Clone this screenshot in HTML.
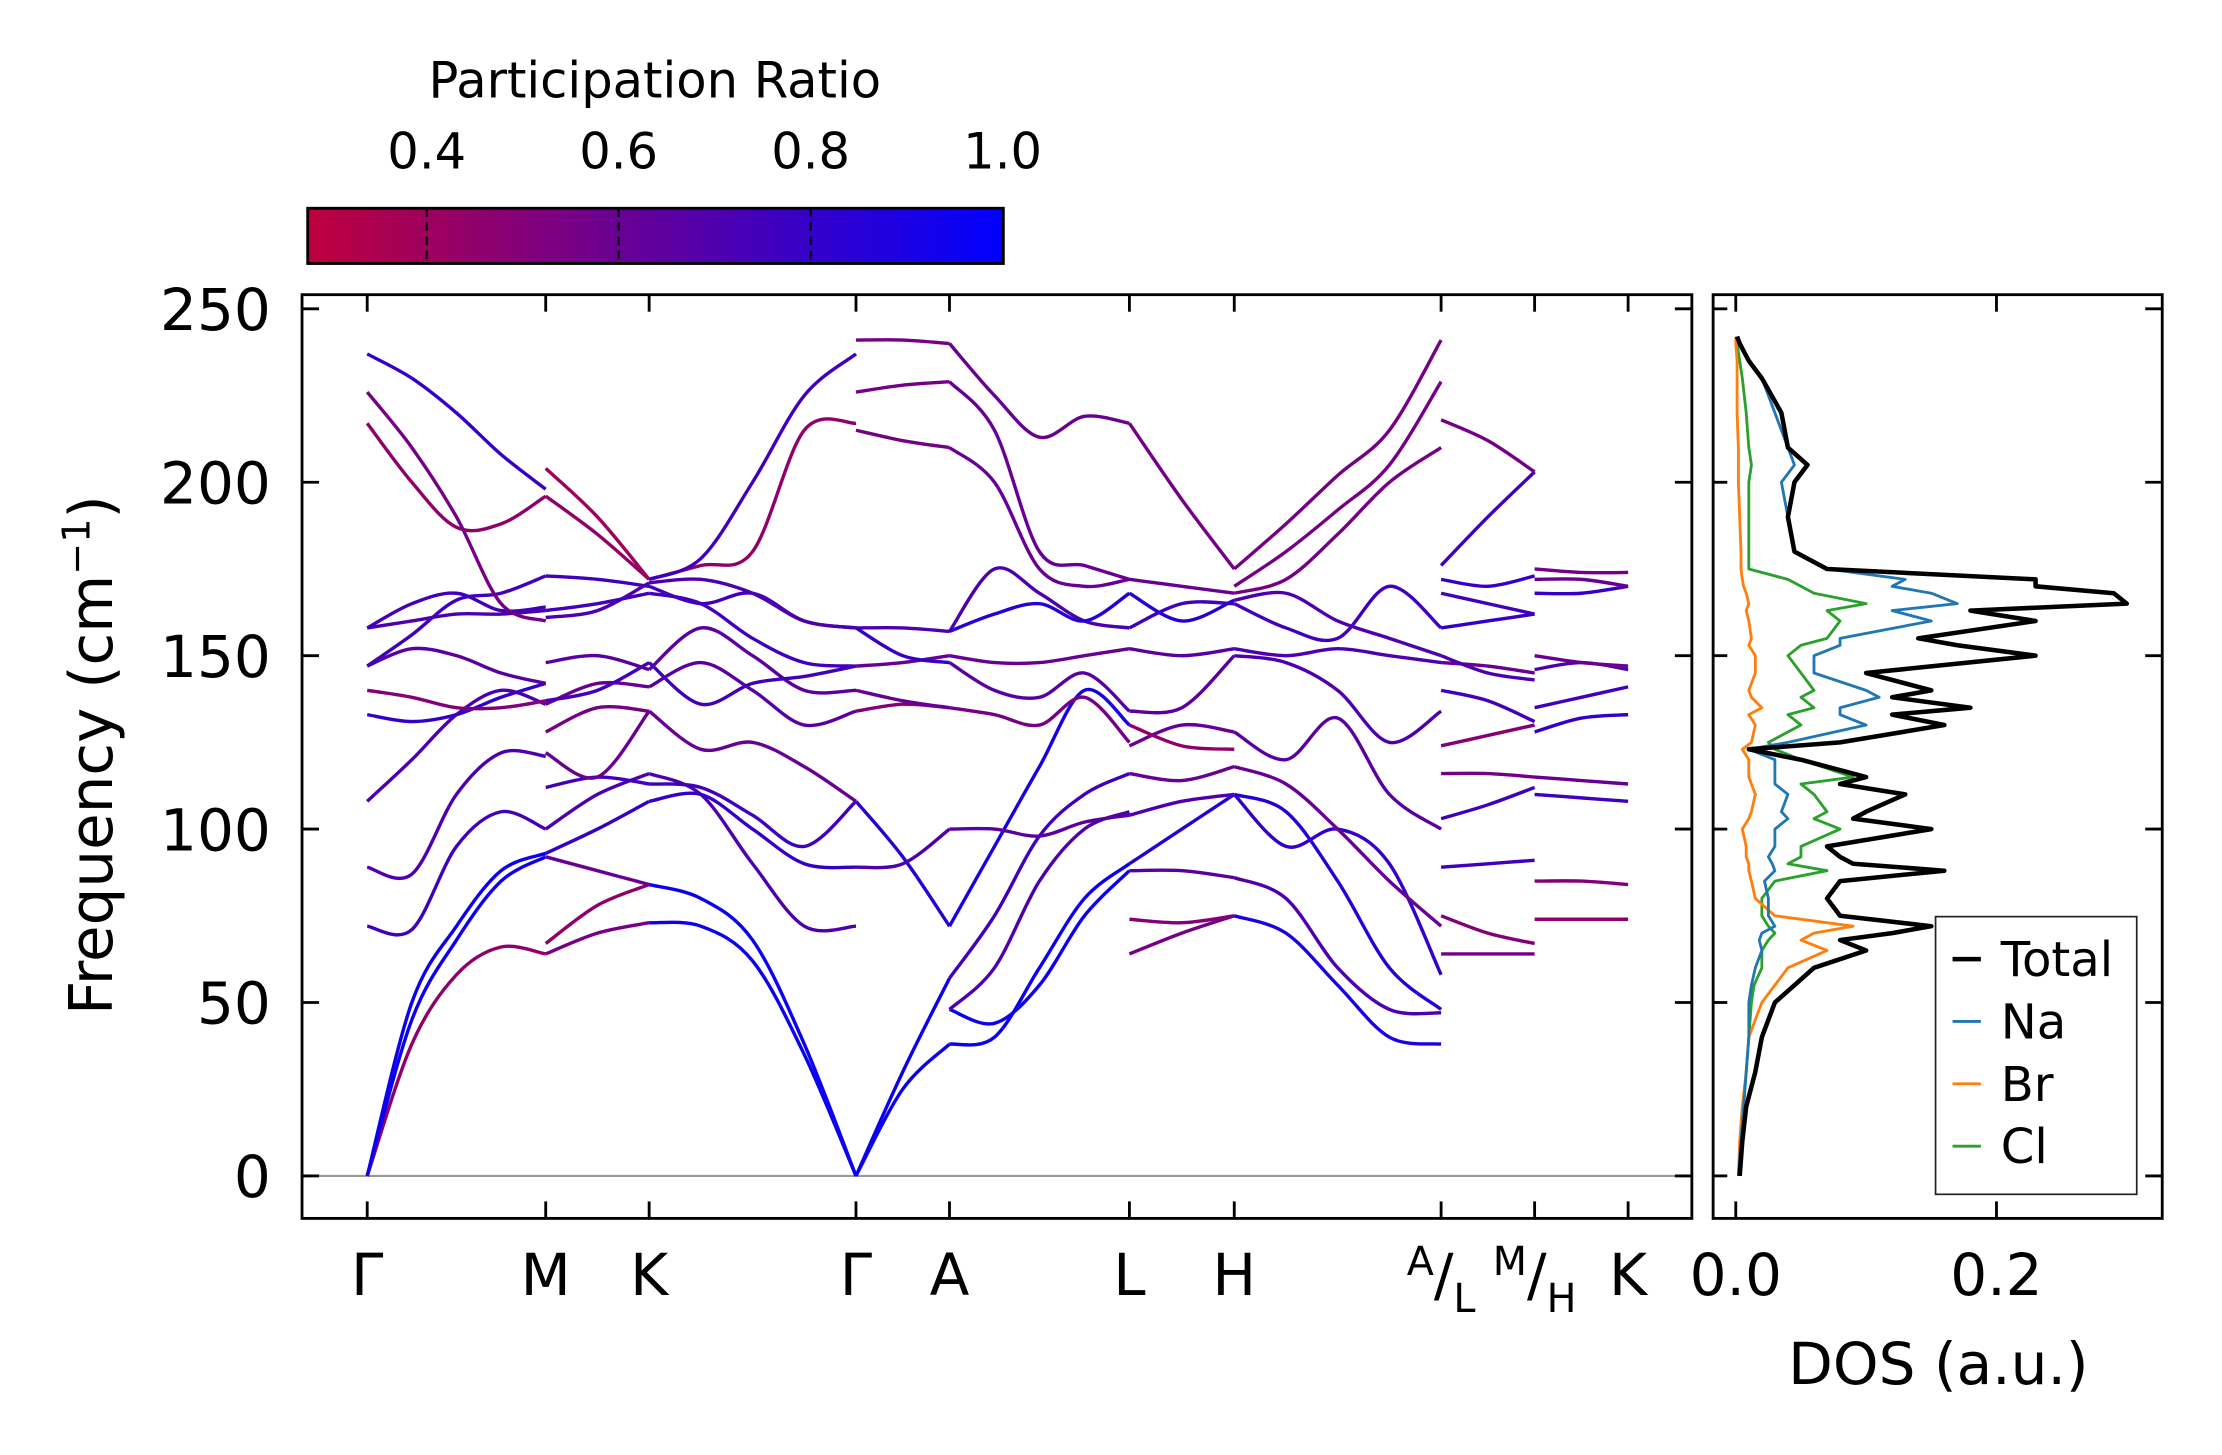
<!DOCTYPE html>
<html><head><meta charset="utf-8"><style>
html,body{margin:0;padding:0;background:#fff}
svg{display:block}
text{font-family:"DejaVu Sans","Liberation Sans",sans-serif;fill:#000}
</style></head><body>
<svg id="fig" width="2222" height="1455" viewBox="0 0 1568 1027" xmlns="http://www.w3.org/2000/svg">
<defs>
<linearGradient id="cmap" x1="0" x2="1" y1="0" y2="0">
<stop offset="0" stop-color="rgb(190,0,60)"/>
<stop offset="0.447" stop-color="rgb(105,0,147)"/>
<stop offset="1" stop-color="rgb(0,0,255)"/>
</linearGradient>
<clipPath id="mainclip"><rect x="213" y="208" width="981" height="652"/></clipPath>
<clipPath id="dosclip"><rect x="1209" y="208" width="317" height="652"/></clipPath>
</defs>
<g>
<text x="462" y="69" font-size="35" text-anchor="middle">Participation Ratio</text>
<rect x="217" y="147" width="491" height="39" fill="url(#cmap)" stroke="#000" stroke-width="2"/>
<g id="cbticks"></g>
</g>
<g>
<line x1="213" x2="1194" y1="830" y2="830" stroke="#999" stroke-width="1.5"/>
<g id="bands" clip-path="url(#mainclip)"></g>
<rect x="213" y="208" width="981" height="652" fill="none" stroke="#000" stroke-width="2"/>
<g id="mainaxes"></g>
<text transform="translate(79,533) rotate(-90)" font-size="42" text-anchor="middle">Frequency (cm<tspan font-size="27" dy="-16">−1</tspan><tspan dy="16">)</tspan></text>
</g>
<g>
<g id="dos" clip-path="url(#dosclip)"></g>
<rect x="1209" y="208" width="317" height="652" fill="none" stroke="#000" stroke-width="2"/>
<g id="dosaxes"></g>
<text x="1368" y="977" font-size="41" text-anchor="middle">DOS (a.u.)</text>
<g>
<rect x="1366" y="647" width="142" height="196" fill="#fff" stroke="#222" stroke-width="1.2"/>
<g id="legend"></g>
</g>
</g>
</svg>
<script>
// ---------- data ----------
const kLabels = ["Γ","M","K","Γ","A","L","H","A|L","M|H","K"];
const kPos = [0,126,199,345,411,538,612,758,824,890];
const yTicks = [0,50,100,150,200,250];
const cbTicks = [0.4,0.6,0.8,1.0];
const dosTicks = [0.0,0.2];
const segGM = [[0.45,0,38,58,66,64],[0.95,0,45,68,85,92],[0.95,0,50,72,88,93],[0.75,72,71,95,105,100],[0.7,89,87,110,122,121],[0.7,108,120,133,140,136],[0.8,133,131,133,138,142],[0.5,140,138,135,135,137],[0.65,147,152,150,145,142],[0.75,147,156,166,168,173],[0.7,158,160,162,162,163],[0.75,158,165,168,163,164],[0.45,217,200,187,188,196],[0.55,226,210,190,165,160],[0.8,237,230,220,208,198]];
const segMK = [[0.55,64,70,73],[0.45,67,78,84],[0.6,92,88,84],[0.8,93,100,108],[0.7,100,110,116],[0.75,112,115,113],[0.6,122,115,134],[0.55,128,135,134],[0.6,136,142,141],[0.75,137,140,148],[0.65,148,150,146],[0.7,161,163,171],[0.75,163,165,168],[0.75,173,172,170],[0.45,196,185,172],[0.4,204,190,172]];
const segKG = [[0.95,73,72,62,35,0],[0.95,84,80,68,38,0],[0.7,116,110,90,72,72],[0.8,108,110,100,90,89],[0.75,113,112,104,95,108],[0.6,134,123,125,118,108],[0.65,141,148,140,130,134],[0.65,146,158,150,140,140],[0.75,148,136,142,144,147],[0.75,168,165,155,148,147],[0.75,170,165,168,160,158],[0.7,171,172,168,160,158],[0.45,172,176,180,215,217],[0.75,172,178,200,225,237]];
const segGA = [[0.95,0,30,57],[0.95,0,25,38],[0.85,108,92,72],[0.7,89,90,100],[0.5,134,136,135],[0.6,140,137,135],[0.6,147,148,150],[0.7,158,158,157],[0.8,158,150,148],[0.55,215,212,210],[0.55,226,228,229],[0.55,241,241,240]];
const segAL = [[0.95,38,40,60,80,90],[0.95,48,44,55,75,88],[0.7,48,60,85,100,105],[0.75,57,75,98,110,116],[0.9,72,95,118,140,130],[0.65,100,100,98,102,104],[0.55,135,133,130,138,125],[0.65,148,140,138,145,134],[0.6,150,148,148,150,152],[0.7,157,175,168,160,158],[0.85,157,162,165,160,168],[0.6,210,200,175,170,172],[0.6,229,215,180,176,172],[0.6,240,225,213,219,217]];
const segLH = [[0.55,64,70,75],[0.5,74,73,75],[0.65,88,88,86],[0.85,90,100,110],[0.7,104,108,110],[0.6,116,114,118],[0.6,124,130,128],[0.45,130,124,123],[0.65,134,135,150],[0.65,152,150,152],[0.75,158,165,165],[0.85,168,160,166],[0.6,172,170,168],[0.55,217,195,175]];
const segHA = [[0.9,75,70,55,40,38],[0.7,86,80,60,48,47],[0.85,110,105,85,60,48],[0.8,110,95,100,90,58],[0.6,118,113,100,85,72],[0.65,128,120,132,110,100],[0.7,150,148,140,125,134],[0.7,152,150,152,150,148],[0.75,165,158,155,170,158],[0.7,166,168,160,155,150],[0.55,175,188,202,215,241],[0.55,170,180,192,205,229],[0.55,168,172,185,200,210]];
const segLM = [[0.55,64,64,64],[0.5,75,70,67],[0.75,89,90,91],[0.75,103,107,112],[0.55,116,116,115],[0.5,124,127,130],[0.75,140,137,131],[0.6,148,147,145],[0.7,150,145,143],[0.8,158,160,162],[0.75,168,165,162],[0.8,172,170,173],[0.75,176,190,203],[0.55,218,212,203]];
const segHK = [[0.45,74,74,74],[0.5,85,85,84],[0.75,110,109,108],[0.6,115,114,113],[0.8,128,132,133],[0.75,135,138,141],[0.7,146,148,146],[0.6,150,148,147],[0.8,168,168,170],[0.6,172,172,170],[0.55,175,174,174]];
const segments = [[0,1,segGM],[1,2,segMK],[2,3,segKG],[3,4,segGA],[4,5,segAL],[5,6,segLH],[6,7,segHA],[7,8,segLM],[8,9,segHK]];
const dosFreq = [0,10,20,30,40,50,55,60,65,68,70,72,75,80,85,88,90,92,95,100,103,105,110,113,115,120,123,125,130,133,135,138,140,145,150,153,155,160,163,165,168,170,172,175,180,190,200,205,210,220,230,235,240,242];
const dosTotal = [0.003,0.005,0.008,0.015,0.02,0.03,0.045,0.06,0.1,0.08,0.12,0.15,0.08,0.07,0.08,0.16,0.09,0.08,0.07,0.15,0.09,0.1,0.13,0.08,0.1,0.05,0.01,0.08,0.16,0.12,0.18,0.12,0.15,0.1,0.23,0.17,0.14,0.23,0.18,0.3,0.29,0.23,0.23,0.07,0.045,0.04,0.045,0.055,0.04,0.035,0.02,0.01,0.003,0.001];
const dosNa = [0.002,0.004,0.006,0.008,0.01,0.01,0.012,0.015,0.02,0.018,0.02,0.03,0.025,0.025,0.022,0.03,0.028,0.025,0.03,0.03,0.04,0.035,0.04,0.03,0.03,0.03,0.01,0.04,0.1,0.08,0.08,0.11,0.1,0.06,0.06,0.08,0.08,0.15,0.12,0.17,0.15,0.12,0.13,0.07,0.045,0.04,0.035,0.045,0.04,0.03,0.02,0.01,0.003,0.001];
const dosBr = [0.002,0.003,0.005,0.008,0.01,0.02,0.03,0.04,0.07,0.05,0.06,0.09,0.03,0.015,0.012,0.01,0.01,0.008,0.008,0.005,0.01,0.012,0.015,0.012,0.01,0.01,0.005,0.012,0.015,0.01,0.02,0.012,0.01,0.015,0.015,0.01,0.012,0.01,0.008,0.01,0.008,0.006,0.005,0.004,0.004,0.003,0.002,0.002,0.002,0.001,0.001,0.001,0.0,0.0];
const dosCl = [0.002,0.004,0.006,0.008,0.01,0.012,0.014,0.02,0.02,0.025,0.03,0.025,0.02,0.02,0.03,0.07,0.04,0.05,0.05,0.08,0.06,0.07,0.06,0.05,0.09,0.05,0.03,0.025,0.05,0.04,0.06,0.05,0.06,0.05,0.04,0.05,0.07,0.08,0.07,0.1,0.06,0.05,0.04,0.01,0.01,0.01,0.01,0.012,0.01,0.008,0.005,0.003,0.001,0.0];

const NS="http://www.w3.org/2000/svg";
function el(tag,attrs,parent){const e=document.createElementNS(NS,tag);for(const k in attrs)e.setAttribute(k,attrs[k]);parent.appendChild(e);return e;}
const yOf = f => 830 - f*2.448;
const xOf = k => 259 + k*(1149-259)/890;
const dosX = v => 1225 + v*920;
const cbX = v => 301 + (v-0.4)*(135.5/0.2);
function cmap(p){let t=Math.max(0,Math.min(1,(p-0.276)/(1-0.276)));let r,g=0,b;
 if(t<0.447){const u=t/0.447;r=190+(105-190)*u;b=60+(147-60)*u;}else{const u=(t-0.447)/0.553;r=105*(1-u);b=147+(255-147)*u;}
 return `rgb(${r|0},${g},${b|0})`;}

const cbt=document.getElementById('cbticks');
cbTicks.forEach(v=>{const x=cbX(v);
 if(v<1){const l=el('line',{x1:x,x2:x,y1:147,y2:186,stroke:'#000','stroke-width':1.5,'stroke-dasharray':'6,4'},cbt);
 
 }
 const t=el('text',{x:x,y:119,'font-size':35,'text-anchor':'middle'},cbt);t.textContent=v.toFixed(1);
 
 });

const ma=document.getElementById('mainaxes');
yTicks.forEach(v=>{const y=yOf(v);
 el('line',{x1:213,x2:225,y1:y,y2:y,stroke:'#000','stroke-width':2},ma);
 el('line',{x1:1182,x2:1194,y1:y,y2:y,stroke:'#000','stroke-width':2},ma);
 const t=el('text',{x:191,y:y+15,'font-size':41,'text-anchor':'end'},ma);t.textContent=v;
 
 });
kPos.forEach((k,i)=>{const x=xOf(k);
 el('line',{x1:x,x2:x,y1:208,y2:220,stroke:'#000','stroke-width':2},ma);
 el('line',{x1:x,x2:x,y1:848,y2:860,stroke:'#000','stroke-width':2},ma);
 const lab=kLabels[i];let t;
 if(lab.includes('|')){const [a,b]=lab.split('|');
  t=el('text',{x:x,y:914,'font-size':41,'text-anchor':'middle'},ma);
  const s1=el('tspan',{'font-size':28,dy:-14},t);s1.textContent=a;
  const s2=el('tspan',{dy:14},t);s2.textContent='/';
  const s3=el('tspan',{'font-size':28,dy:12},t);s3.textContent=b;
 } else {t=el('text',{x:x,y:914,'font-size':41,'text-anchor':'middle'},ma);t.textContent=lab;}
 
 });

const bg=document.getElementById('bands');
function smoothPath(pts){let d=`M${pts[0][0]},${pts[0][1]}`;
 for(let i=0;i<pts.length-1;i++){const p0=pts[Math.max(0,i-1)],p1=pts[i],p2=pts[i+1],p3=pts[Math.min(pts.length-1,i+2)];
  const c1=[p1[0]+(p2[0]-p0[0])/6,p1[1]+(p2[1]-p0[1])/6],c2=[p2[0]-(p3[0]-p1[0])/6,p2[1]-(p3[1]-p1[1])/6];
  d+=` C${c1[0]},${c1[1]} ${c2[0]},${c2[1]} ${p2[0]},${p2[1]}`;}
 return d;}
segments.forEach(([a,b,bands])=>{const x0=xOf(kPos[a]),x1=xOf(kPos[b]);
 bands.forEach(bd=>{const pr=bd[0],vals=bd.slice(1),n=vals.length-1;
  const pts=vals.map((v,i)=>[x0+(x1-x0)*i/n,yOf(v)]);
  const p=el('path',{d:smoothPath(pts),fill:'none',stroke:cmap(pr),'stroke-width':2.4},bg);
  
  });});

const da=document.getElementById('dosaxes');
yTicks.forEach(v=>{const y=yOf(v);
 el('line',{x1:1209,x2:1219,y1:y,y2:y,stroke:'#000','stroke-width':2},da);
 el('line',{x1:1514,x2:1526,y1:y,y2:y,stroke:'#000','stroke-width':2},da);});
dosTicks.forEach(v=>{const x=dosX(v);
 el('line',{x1:x,x2:x,y1:208,y2:220,stroke:'#000','stroke-width':2},da);
 el('line',{x1:x,x2:x,y1:848,y2:860,stroke:'#000','stroke-width':2},da);
 const t=el('text',{x:x,y:914,'font-size':41,'text-anchor':'middle'},da);t.textContent=v.toFixed(1);
 
 });
const dg=document.getElementById('dos');
const series=[['dos-cl',dosCl,'#2ca02c',2],['dos-br',dosBr,'#ff7f0e',2],['dos-na',dosNa,'#1f77b4',2],['dos-total',dosTotal,'#000',3.2]];
series.forEach(([name,arr,c,w])=>{const pts=arr.map((v,i)=>`${dosX(v)},${yOf(dosFreq[i])}`).join(' ');
 const pl=el('polyline',{points:pts,fill:'none',stroke:c,'stroke-width':w,'stroke-linejoin':'round'},dg);
 
 });
const lg=document.getElementById('legend');
[['Total','#000',3.2],['Na','#1f77b4',2],['Br','#ff7f0e',2],['Cl','#2ca02c',2]].forEach(([n,c,w],i)=>{const y=677+i*44;
 el('line',{x1:1378,x2:1398,y1:y,y2:y,stroke:c,'stroke-width':w},lg);
 const t=el('text',{x:1412,y:y+12,'font-size':34},lg);t.textContent=n;
 
 });
</script>
</body></html>
